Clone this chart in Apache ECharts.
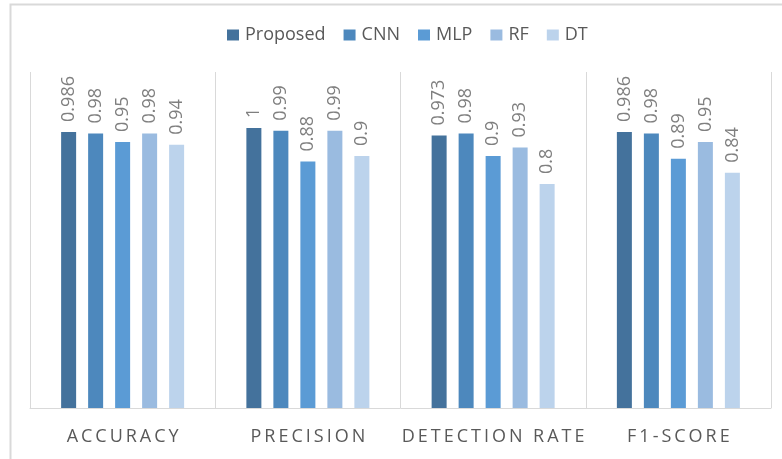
<!DOCTYPE html>
<html>
<head>
<meta charset="utf-8">
<script src="https://cdn.jsdelivr.net/npm/echarts@6/dist/echarts.min.js"></script>
<style>
  html, body { margin: 0; padding: 0; background: #fff; }
  #chart { width: 782px; height: 459px; }
</style>
</head>
<body>
<div id="chart"></div>
<script>
// Metric groups along the x axis
const categories = ['ACCURACY', 'PRECISION', 'DETECTION RATE', 'F1-SCORE'];

// Model scores per metric
const proposed = [0.986, 1, 0.973, 0.986];
const cnn      = [0.98, 0.99, 0.98, 0.98];
const mlp      = [0.95, 0.88, 0.9, 0.89];
const rf       = [0.98, 0.99, 0.93, 0.95];
const dt       = [0.94, 0.9, 0.8, 0.84];

const seriesNames = ['Proposed', 'CNN', 'MLP', 'RF', 'DT'];
const seriesData = [proposed, cnn, mlp, rf, dt];
const colors = ['#44729c', '#4d88bd', '#5b9bd5', '#9abbe0', '#bcd3ec'];

const FONT = '"Open Sans", "Liberation Sans", sans-serif';

const chart = echarts.init(document.getElementById('chart'), null, { renderer: 'canvas' });

const series = seriesNames.map((name, i) => ({
  name,
  type: 'bar',
  data: seriesData[i],
  barWidth: 15,
  barGap: '80%',
  itemStyle: { color: colors[i] },
  label: {
    show: true,
    position: 'top',
    rotate: 90,
    align: 'left',
    verticalAlign: 'middle',
    distance: 10,
    color: '#7f7f7f',
    fontFamily: FONT,
    fontSize: 18
  }
}));

chart.setOption({
  animation: false,
  color: colors,
  graphic: [
    {
      type: 'polyline',
      shape: { points: [[10.5, 470], [10.5, 4.5], [790, 4.5]] },
      style: { stroke: '#d9d9d9', lineWidth: 2, fill: null },
      silent: true
    }
  ],
  legend: {
    top: 21,
    left: 222,
    itemWidth: 12,
    itemHeight: 11,
    itemGap: 18,
    icon: 'rect',
    textStyle: { color: '#595959', fontFamily: FONT, fontSize: 18, padding: [0, 0, 0, 1] },
    data: seriesNames
  },
  grid: { left: 30, right: 11, top: 72, bottom: 51, containLabel: false },
  xAxis: {
    type: 'category',
    data: categories,
    axisLine: { show: true, lineStyle: { color: '#d9d9d9', width: 1 } },
    axisTick: { show: false },
    splitLine: { show: true, interval: 0, lineStyle: { color: '#d9d9d9', width: 1 } },
    axisLabel: {
      interval: 0,
      hideOverlap: false,
      color: '#595959',
      fontFamily: FONT,
      fontSize: 18,
      margin: 20,
      // widen the letter spacing of the metric names
      formatter: v => v.split('').join('\u2009')
    }
  },
  yAxis: {
    type: 'value',
    min: 0,
    max: 1.2,
    show: false,
    splitLine: { show: false }
  },
  series
});
</script>
</body>
</html>
